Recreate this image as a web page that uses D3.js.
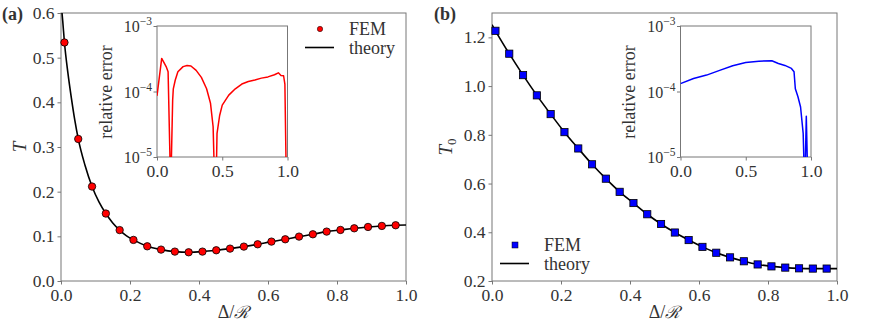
<!DOCTYPE html>
<html>
<head>
<meta charset="utf-8">
<script src="https://cdn.jsdelivr.net/npm/d3@7"></script>
<style>
  body { margin: 0; background: #fff; }
  svg text { font-family: "Liberation Serif", "DejaVu Serif", serif; fill: #333; }
</style>
</head>
<body>
<svg id="chart"></svg>
<script>
const width = 872;
const height = 327;

// panel (a): FEM points and theory curve
const femX = [0.01, 0.05, 0.09, 0.13, 0.17, 0.21, 0.25, 0.29, 0.33, 0.37, 0.41, 0.45, 0.49,
  0.53, 0.57, 0.61, 0.65, 0.69, 0.73, 0.77, 0.81, 0.85, 0.89, 0.93, 0.97];
const femA = [0.534, 0.318, 0.2115, 0.151, 0.114, 0.092, 0.0777, 0.0703, 0.0658, 0.0643, 0.0658,
  0.0688, 0.0725, 0.077, 0.0822, 0.0882, 0.0934, 0.0994, 0.1046, 0.1106, 0.1143, 0.118, 0.121, 0.1233, 0.1248];
const theoryAX = [0, 0.005, 0.01, 0.02, 0.03, 0.04, 0.05, 0.07, 0.09, 0.11, 0.13, 0.15, 0.17, 0.19,
  0.21, 0.25, 0.29, 0.33, 0.37, 0.41, 0.45, 0.49, 0.53, 0.57, 0.61, 0.65, 0.69, 0.73, 0.77,
  0.81, 0.85, 0.89, 0.93, 0.97, 1.0];
const theoryA = [0.625, 0.582, 0.534, 0.466, 0.41, 0.36, 0.318, 0.258, 0.2115, 0.177, 0.151, 0.13,
  0.114, 0.101, 0.092, 0.0777, 0.0703, 0.0658, 0.0643, 0.0658, 0.0688, 0.0725, 0.077, 0.0822,
  0.0882, 0.0934, 0.0994, 0.1046, 0.1106, 0.1143, 0.118, 0.121, 0.1233, 0.1248, 0.1255];

// panel (b)
const femB = [1.227, 1.133, 1.045, 0.962, 0.885, 0.811, 0.744, 0.679, 0.62, 0.566, 0.52, 0.474,
  0.434, 0.399, 0.368, 0.34, 0.316, 0.297, 0.281, 0.268, 0.26, 0.255, 0.252, 0.251, 0.251];
const theoryBX = [0].concat(femX, [1.0]);
const theoryB = [1.252].concat(femB, [0.251]);

// insets: relative error
const errAX = [0, 0.036, 0.07, 0.085, 0.105, 0.12, 0.125, 0.14, 0.16, 0.2, 0.23, 0.26, 0.3,
  0.34, 0.38, 0.41, 0.43, 0.443, 0.452, 0.46, 0.48, 0.5, 0.55, 0.6, 0.65, 0.7, 0.75, 0.8,
  0.85, 0.9, 0.93, 0.95, 0.97, 0.98, 0.992];
const errA = [8.6e-5, 3.2e-4, 2.4e-4, 2.0e-4, 3e-6, 7.4e-5, 1.1e-4, 1.5e-4, 2.0e-4, 2.4e-4, 2.5e-4,
  2.45e-4, 2.1e-4, 1.64e-4, 1.1e-4, 6.6e-5, 2.9e-5, 3e-6, 3e-6, 2.3e-5, 4.3e-5, 6.2e-5, 8.8e-5,
  1.1e-4, 1.3e-4, 1.42e-4, 1.5e-4, 1.6e-4, 1.67e-4, 1.8e-4, 1.93e-4, 1.76e-4, 1.74e-4, 1.3e-4, 3e-6];
const errBX = [0, 0.1, 0.2, 0.3, 0.4, 0.5, 0.6, 0.7, 0.75, 0.8, 0.85, 0.87, 0.88, 0.9, 0.92,
  0.94, 0.952, 0.964, 0.977];
const errB = [1.32e-4, 1.58e-4, 1.78e-4, 2.1e-4, 2.47e-4, 2.78e-4, 2.9e-4, 2.95e-4, 2.68e-4,
  2.5e-4, 2.25e-4, 2.0e-4, 1.1e-4, 8.3e-5, 5.8e-5, 2.3e-5, 3e-6, 4.2e-5, 3e-6];

const xTicks = [0, 0.2, 0.4, 0.6, 0.8, 1.0];
const yTicksA = [0, 0.1, 0.2, 0.3, 0.4, 0.5, 0.6];
const yTicksB = [0.2, 0.4, 0.6, 0.8, 1.0, 1.2];
const insetXTicks = [0, 0.5, 1.0];
const insetYTicks = [1e-5, 1e-4, 1e-3];

const svg = d3.select("#chart").attr("width", width).attr("height", height);
const spine = "#777";

function frame(g, x, y, id) {
  const [x0, x1] = x.range();
  const [y0, y1] = y.range();
  svg.append("clipPath").attr("id", id)
    .append("rect").attr("x", x0).attr("y", y1).attr("width", x1 - x0).attr("height", y0 - y1);
  g.append("rect")
    .attr("x", x0).attr("y", y1).attr("width", x1 - x0).attr("height", y0 - y1)
    .attr("fill", "none").attr("stroke", spine).attr("stroke-width", 1);
}

function styleAxis(sel, size) {
  sel.select(".domain").remove();
  sel.selectAll(".tick line").attr("stroke", spine);
  sel.selectAll(".tick text")
    .style("font-family", '"Liberation Serif", serif')
    .style("font-size", size + "px").attr("fill", "#333");
}

function mainPanel(opts) {
  const g = svg.append("g");
  const x = d3.scaleLinear().domain([0, 1]).range([opts.left, opts.right]);
  const y = d3.scaleLinear().domain(opts.yDomain).range([281, 13]);

  g.append("g").attr("transform", `translate(0,${281})`)
    .call(d3.axisBottom(x).tickValues(xTicks).tickSize(3.5).tickPadding(4).tickFormat(d3.format(".1f")))
    .call(s => styleAxis(s, 17.5));
  g.append("g").attr("transform", `translate(${opts.left},0)`)
    .call(d3.axisLeft(y).tickValues(opts.yTicks).tickSize(3.5).tickPadding(3).tickFormat(d3.format(".1f")))
    .call(s => styleAxis(s, 17.5));

  frame(g, x, y, opts.id);

  const line = d3.line().x((d, i) => x(opts.thX[i])).y(d => y(d)).curve(d3.curveMonotoneX);
  g.append("path").datum(opts.th)
    .attr("clip-path", `url(#${opts.id})`)
    .attr("d", line).attr("fill", "none").attr("stroke", "#000").attr("stroke-width", 1.6);

  const pts = g.append("g").selectAll("g").data(opts.fem).enter().append("g")
    .attr("transform", (d, i) => `translate(${x(femX[i])},${y(d)})`);
  if (opts.marker === "circle") {
    pts.append("circle").attr("r", 3.7).attr("fill", "#ff0000").attr("stroke", "#000").attr("stroke-width", 0.8);
  } else {
    pts.append("rect").attr("x", -3.6).attr("y", -3.6).attr("width", 7.2).attr("height", 7.2)
      .attr("fill", "#0000ff").attr("stroke", "#000").attr("stroke-width", 0.8);
  }

  // axis labels
  const xl = g.append("text").attr("x", (opts.left + opts.right) / 2).attr("y", 318)
    .attr("text-anchor", "middle").style("font-size", "18px");
  xl.append("tspan").text("Δ/");
  xl.append("tspan").style("font-family", '"DejaVu Serif", serif').style("font-style", "italic").style("font-size", "17px").text("ℛ");

  const yl = g.append("text")
    .attr("transform", `translate(${opts.yLabelX},147) rotate(-90)`)
    .attr("text-anchor", "middle").style("font-size", "19px").style("font-style", "italic");
  yl.append("tspan").text("T");
  if (opts.sub) yl.append("tspan").attr("dy", 4).style("font-size", "13px").style("font-style", "normal").text(opts.sub);

  // panel label
  g.append("text").attr("x", opts.tagX).attr("y", 20).style("font-size", "18px").style("font-weight", "bold")
    .attr("fill", "#111").text(opts.tag);

  // legend
  const lg = g.append("g");
  const [mx, my] = opts.legend;
  if (opts.marker === "circle") {
    lg.append("circle").attr("cx", mx + 15).attr("cy", my).attr("r", 2.7).attr("fill", "#ff0000").attr("stroke", "#000").attr("stroke-width", 0.5);
  } else {
    lg.append("rect").attr("x", mx + 12).attr("y", my - 3).attr("width", 6).attr("height", 6)
      .attr("fill", "#0000ff").attr("stroke", "#000").attr("stroke-width", 0.5);
  }
  lg.append("line").attr("x1", mx).attr("x2", mx + 29).attr("y1", my + 18.5).attr("y2", my + 18.5)
    .attr("stroke", "#000").attr("stroke-width", 1.6);
  lg.append("text").attr("x", mx + 44).attr("y", my + 6).style("font-size", "18px").text("FEM");
  lg.append("text").attr("x", mx + 44).attr("y", my + 24.5).style("font-size", "18px").text("theory");
}

function inset(opts) {
  const g = svg.append("g");
  const x = d3.scaleLinear().domain([0, 1]).range([opts.left, opts.right]);
  const y = d3.scaleLog().domain([1e-5, 1e-3]).range([157, 26]);

  g.append("g").attr("transform", `translate(0,157)`)
    .call(d3.axisBottom(x).tickValues(insetXTicks).tickSize(3.5).tickPadding(4).tickFormat(d3.format(".1f")))
    .call(s => styleAxis(s, 17.5));
  const ya = g.append("g").attr("transform", `translate(${opts.left},0)`)
    .call(d3.axisLeft(y).tickValues(insetYTicks).tickSize(3.5).tickFormat(""));
  styleAxis(ya, 16);
  insetYTicks.forEach(v => {
    const t = g.append("text").attr("x", opts.left - 5).attr("y", y(v) + 6)
      .attr("text-anchor", "end").style("font-size", "16px");
    t.append("tspan").text("10");
    t.append("tspan").attr("dy", -7).style("font-size", "11.5px").text("−" + (-Math.log10(v)).toFixed(0));
  });

  frame(g, x, y, opts.id);

  const line = d3.line().x((d, i) => x(opts.ex[i])).y(d => y(d));
  g.append("path").datum(opts.err)
    .attr("clip-path", `url(#${opts.id})`)
    .attr("d", line).attr("fill", "none").attr("stroke", opts.color).attr("stroke-width", 1.5)
    .attr("stroke-linejoin", "round");

  g.append("text").attr("transform", `translate(${opts.labelX},92) rotate(-90)`)
    .attr("text-anchor", "middle").style("font-size", "18px").text("relative error");
}

mainPanel({ id: "clipA", left: 61, right: 406, yDomain: [0, 0.6], yTicks: yTicksA, fem: femA,
  thX: theoryAX, th: theoryA, marker: "circle", yLabelX: 26, tag: "(a)", tagX: 2, legend: [305, 29] });
mainPanel({ id: "clipB", left: 492, right: 837, yDomain: [0.2, 1.3], yTicks: yTicksB, fem: femB,
  thX: theoryBX, th: theoryB, marker: "square", yLabelX: 452, sub: "0", tag: "(b)", tagX: 434, legend: [500, 245] });
inset({ id: "clipIA", left: 157, right: 287.5, ex: errAX, err: errA, color: "#ff0000", labelX: 112 });
inset({ id: "clipIB", left: 680.5, right: 811, ex: errBX, err: errB, color: "#0000ff", labelX: 635 });
</script>
</body>
</html>
